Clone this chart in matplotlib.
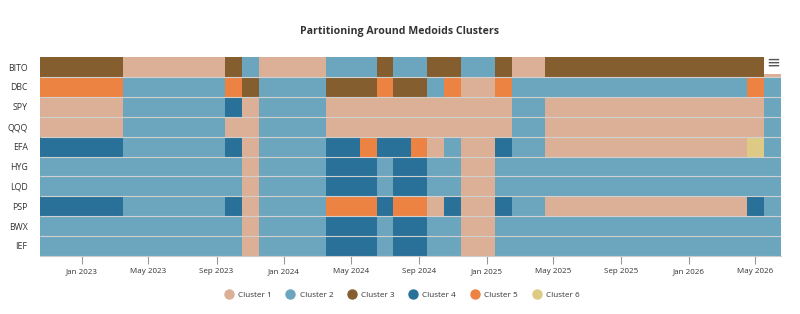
import numpy as np
import pandas as pd
import matplotlib
matplotlib.use("Agg")
import matplotlib.pyplot as plt
import matplotlib.dates as mdates
from matplotlib.colors import ListedColormap, BoundaryNorm
from matplotlib.lines import Line2D

plt.rcParams['font.family'] = ['Open Sans', 'DejaVu Sans']

tickers = ["BITO", "DBC", "SPY", "QQQ", "EFA", "HYG", "LQD", "PSP", "BWX", "IEF"]
months = pd.date_range("2022-11-01", periods=44, freq="MS")

# cluster runs per ticker: (cluster, number of months)
bito = [(3, 5), (1, 6), (3, 1), (2, 1), (1, 4), (2, 3), (3, 1), (2, 2), (3, 2), (2, 2), (3, 1), (1, 2), (3, 13), (1, 1)]
dbc = [(5, 5), (2, 6), (5, 1), (3, 1), (2, 4), (3, 3), (5, 1), (3, 2), (2, 1), (5, 1), (1, 2), (5, 1), (2, 14), (5, 1), (2, 1)]
spy = [(1, 5), (2, 6), (4, 1), (1, 1), (2, 4), (1, 11), (2, 2), (1, 13), (2, 1)]
qqq = [(1, 5), (2, 6), (1, 2), (2, 4), (1, 11), (2, 2), (1, 13), (2, 1)]
efa = [(4, 5), (2, 6), (4, 1), (1, 1), (2, 4), (4, 2), (5, 1), (4, 2), (5, 1), (1, 1), (2, 1), (1, 2), (4, 1), (2, 2), (1, 12), (6, 1), (2, 1)]
hyg = [(2, 12), (1, 1), (2, 4), (4, 3), (2, 1), (4, 2), (2, 2), (1, 2), (2, 17)]
lqd = [(2, 12), (1, 1), (2, 4), (4, 3), (2, 1), (4, 2), (2, 2), (1, 2), (2, 17)]
psp = [(4, 5), (2, 6), (4, 1), (1, 1), (2, 4), (5, 3), (4, 1), (5, 2), (1, 1), (4, 1), (1, 2), (4, 1), (2, 2), (1, 12), (4, 1), (2, 1)]
bwx = [(2, 12), (1, 1), (2, 4), (4, 3), (2, 1), (4, 2), (2, 2), (1, 2), (2, 17)]
ief = [(2, 12), (1, 1), (2, 4), (4, 3), (2, 1), (4, 2), (2, 2), (1, 2), (2, 17)]

runs = [bito, dbc, spy, qqq, efa, hyg, lqd, psp, bwx, ief]
grid = np.array([[c for c, n in r for _ in range(n)] for r in runs])

cluster_names = ["Cluster 1", "Cluster 2", "Cluster 3", "Cluster 4", "Cluster 5", "Cluster 6"]
colors = ["#dbb096", "#6ca6be", "#855e30", "#297199", "#ed8343", "#ddcb85"]

centers = mdates.date2num(months)
mid = (centers[:-1] + centers[1:]) / 2
xedges = np.concatenate([[centers[0] - (centers[1] - centers[0]) / 2], mid,
                         [centers[-1] + (centers[-1] - centers[-2]) / 2]])
yedges = np.arange(len(tickers) + 1)

fig = plt.figure(figsize=(8, 3.14), dpi=100)
ax = fig.add_axes([0.05, 0.185, 0.926, 0.633])

cmap = ListedColormap(colors)
norm = BoundaryNorm(np.arange(0.5, 7.5, 1), cmap.N)
ax.pcolormesh(xedges, yedges, grid, cmap=cmap, norm=norm, edgecolors="none")
ax.hlines(np.arange(1, len(tickers)), xedges[0], xedges[-1], color="#d0d0d0", lw=0.8)

ax.set_xlim(xedges[0], xedges[-1])
ax.set_ylim(len(tickers), 0)
ax.set_yticks(np.arange(len(tickers)) + 0.5)
ax.set_yticklabels(tickers, fontsize=6.3, color="#333333")
ax.tick_params(axis="y", length=0, pad=9)

xt = pd.date_range("2023-01-01", "2026-05-01", freq="4MS")
ax.set_xticks(mdates.date2num(xt))
ax.set_xticklabels([d.strftime("%b %Y") for d in xt], fontsize=5.8, color="#333333")
ax.tick_params(axis="x", length=6, color="#999999", width=0.8, pad=3)

for s in ["top", "left", "right"]:
    ax.spines[s].set_visible(False)
ax.spines["bottom"].set_color("#cccccc")

fig.text(0.5, 0.9, "Partitioning Around Medoids Clusters", ha="center", va="center",
         fontsize=7.6, fontweight="bold", color="#333333")

# export menu icon
fig.text(0.966, 0.8, "\u2261", ha="center", va="center", fontsize=12, color="#555555",
         family="DejaVu Sans", bbox=dict(facecolor="white", edgecolor="none", pad=1.5))

handles = [Line2D([], [], marker="o", linestyle="none", markersize=6.5,
                  markerfacecolor=c, markeredgecolor=c) for c in colors]
fig.legend(handles, cluster_names, loc="center", bbox_to_anchor=(0.5, 0.06), ncol=6,
           frameon=False, fontsize=5.9, handletextpad=0.1, columnspacing=1.3,
           labelcolor="#333333")

fig.savefig("out.png", dpi=100)
